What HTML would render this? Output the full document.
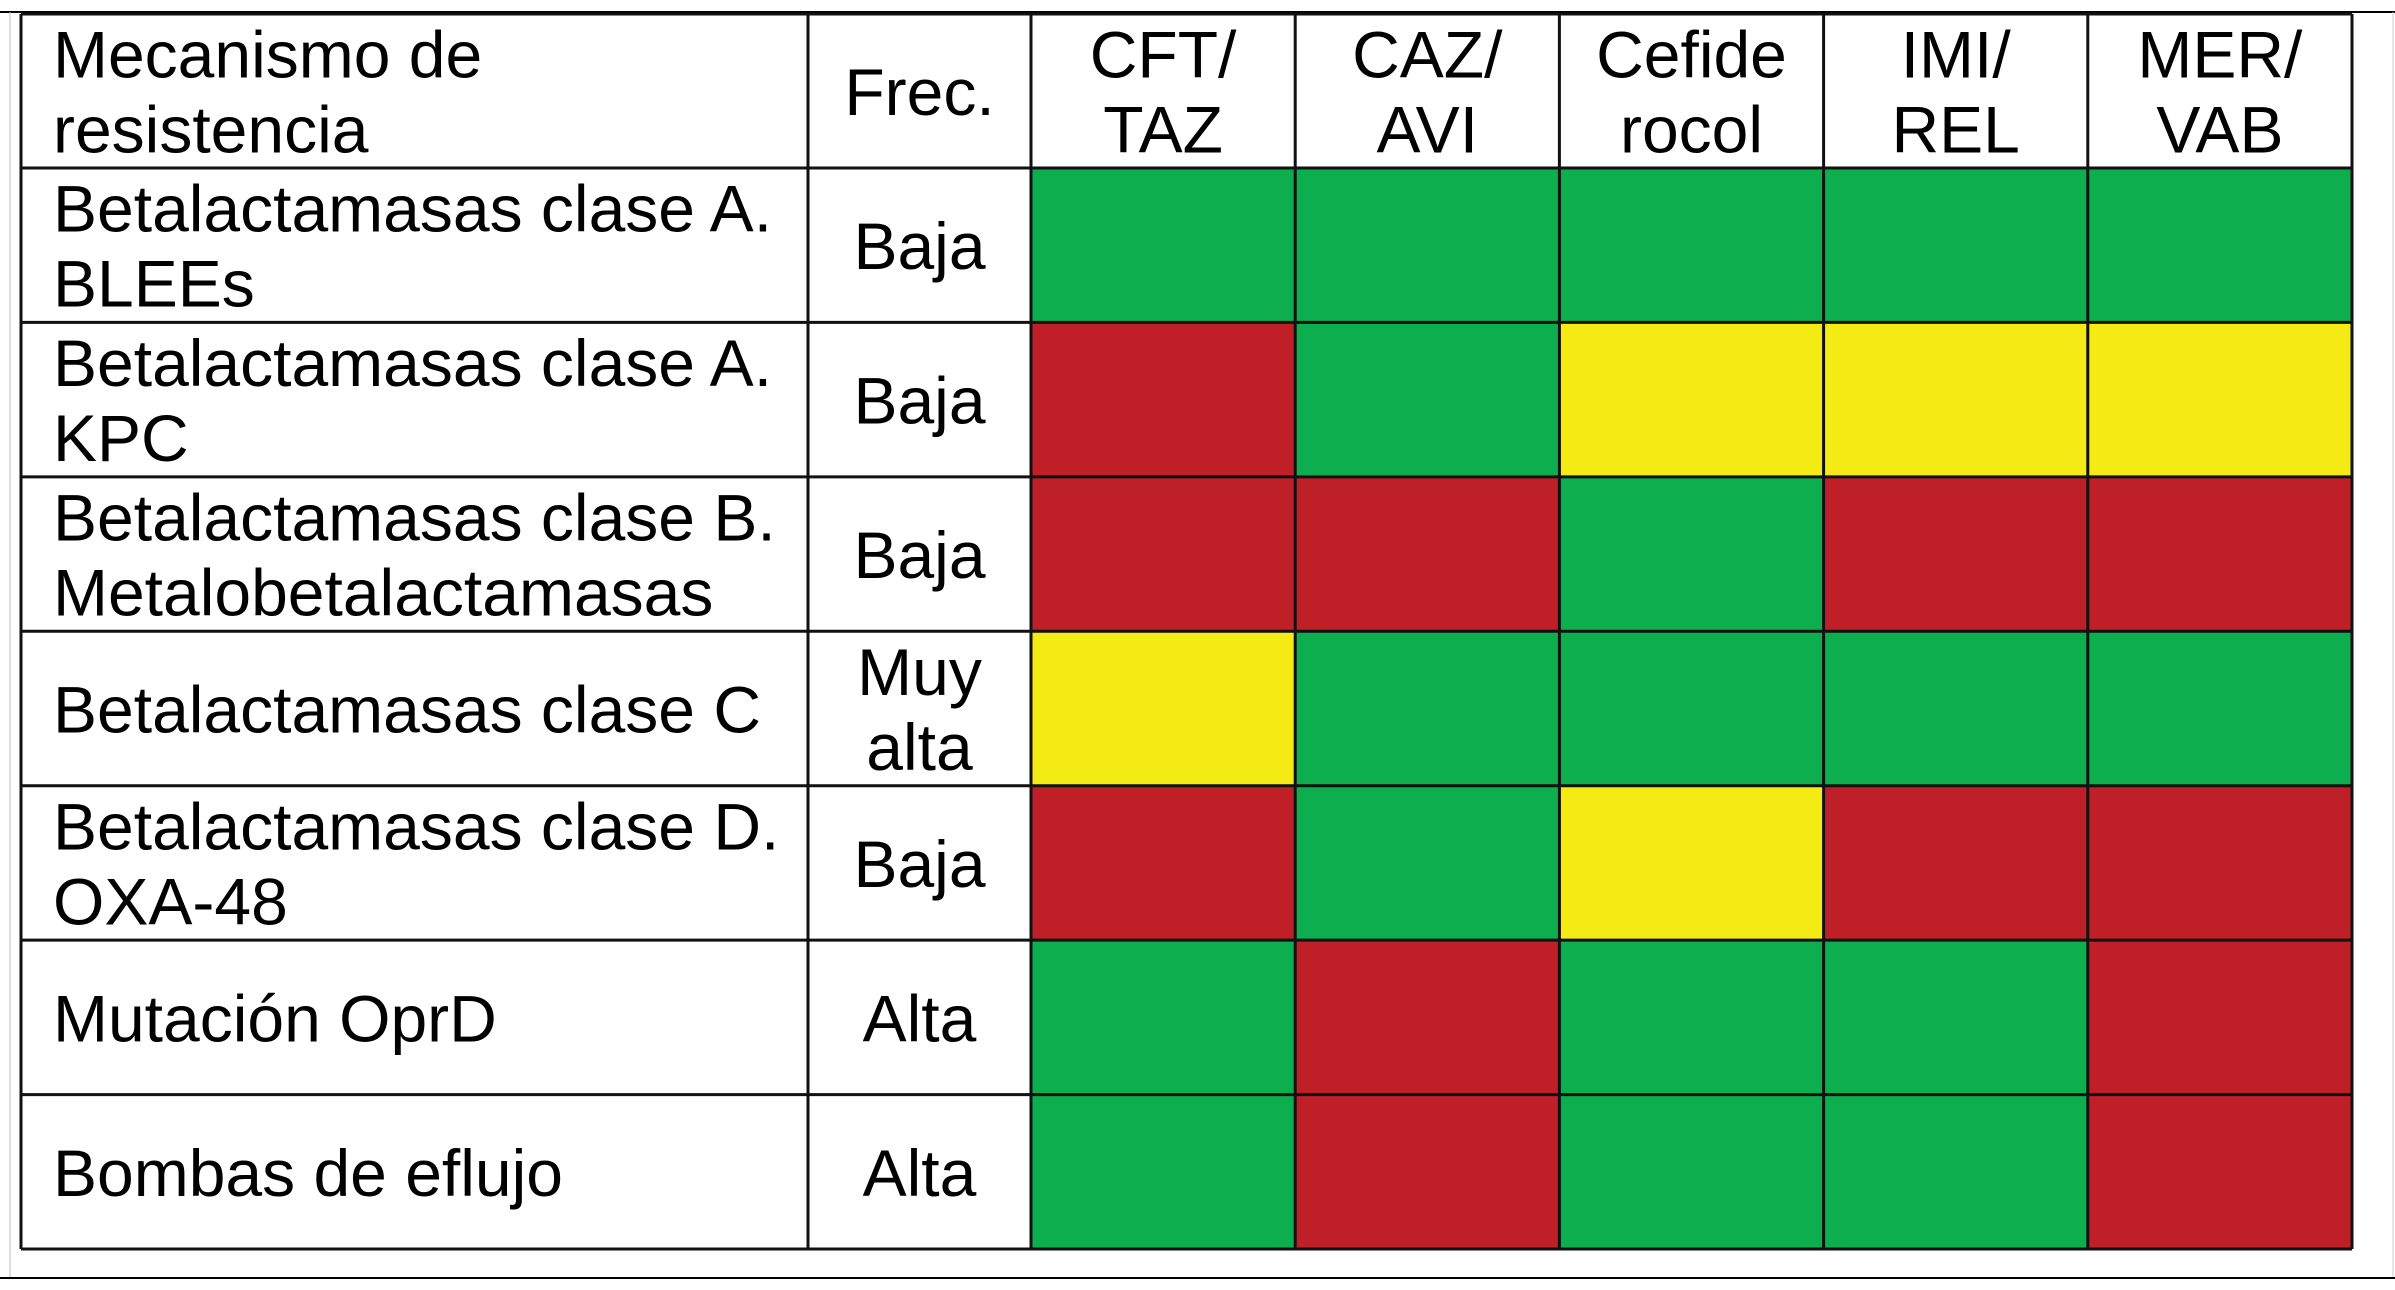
<!DOCTYPE html>
<html><head><meta charset="utf-8"><style>
html,body{margin:0;padding:0;background:#fff;width:2395px;height:1290px;overflow:hidden}
svg{display:block}
text{font-family:"Liberation Sans",Arial,sans-serif;font-size:66px;fill:#000}
</style></head><body>
<svg id="chart" width="2395" height="1290">
<line x1="0" y1="12" x2="2395" y2="12" stroke="#000" stroke-width="2"/>
<line x1="10" y1="12" x2="10" y2="1278" stroke="#bbb" stroke-width="1"/>
<line x1="2393" y1="12" x2="2393" y2="1278" stroke="#ccc" stroke-width="1"/>
<line x1="0" y1="1278" x2="2395" y2="1278" stroke="#000" stroke-width="2"/>
<g id="cells"></g><g id="grid"></g><g id="labels"></g>
</svg>
<script>
const mechanisms = [["Betalactamasas clase A.","BLEEs"],["Betalactamasas clase A.","KPC"],["Betalactamasas clase B.","Metalobetalactamasas"],["Betalactamasas clase C"],["Betalactamasas clase D.","OXA-48"],["Mutación OprD"],["Bombas de eflujo"]];
const frequencies = [["Baja"],["Baja"],["Baja"],["Muy","alta"],["Baja"],["Alta"],["Alta"]];
const drugs = [["CFT/","TAZ"],["CAZ/","AVI"],["Cefide","rocol"],["IMI/","REL"],["MER/","VAB"]];
const resistStatus = [
 ["G","G","G","G","G"],
 ["R","G","Y","Y","Y"],
 ["R","R","G","R","R"],
 ["Y","G","G","G","G"],
 ["R","G","Y","R","R"],
 ["G","R","G","G","R"],
 ["G","R","G","G","R"]
];
const colorMap = {G:"#0CAE4E",R:"#BF1F26",Y:"#F5EB14"};
const NS="http://www.w3.org/2000/svg";
const tLeft=21,tRight=2352,tableTop=14,headerBottom=168,tBottom=1249,c1=808,c2=1031;
const colW=(tRight-c2)/drugs.length, rowH=(tBottom-headerBottom)/mechanisms.length;
function colX(i){return c2+i*colW;}
function rowY(i){return headerBottom+i*rowH;}
const cellsG=document.getElementById('cells'),gridG=document.getElementById('grid'),labelsG=document.getElementById('labels');
function mk(tag,attrs,parent){const e=document.createElementNS(NS,tag);for(const k in attrs)e.setAttribute(k,attrs[k]);parent.appendChild(e);return e;}
function txt(lines,x,cy,anchor,parent,name){
  const t=mk('text',{x:x,'text-anchor':anchor},parent);
  
  
  const lh=75, n=lines.length;
  lines.forEach((s,i)=>{const sp=mk('tspan',{x:x,y:cy+(i-(n-1)/2)*lh+24},t);sp.textContent=s;});
}
resistStatus.forEach((row,r)=>row.forEach((v,c)=>{
  const rc=mk('rect',{x:colX(c),y:rowY(r),width:colW,height:rowH,fill:colorMap[v]},cellsG);
  
  
}));
const xs=[tLeft,c1,c2];for(let i=1;i<=drugs.length;i++)xs.push(colX(i));
xs.forEach(x=>{const l=mk('line',{x1:x,y1:tableTop,x2:x,y2:tBottom,stroke:'#111','stroke-width':3},gridG);
  
  });
const ys=[tableTop,headerBottom];for(let i=1;i<=mechanisms.length;i++)ys.push(rowY(i));
ys.forEach(y=>{const l=mk('line',{x1:tLeft,y1:y,x2:tRight,y2:y,stroke:'#111','stroke-width':3},gridG);
  
  });
txt(["Mecanismo de","resistencia"],53,(tableTop+headerBottom)/2,'start',labelsG,'header-mechanism');
txt(["Frec."],(c1+c2)/2,(tableTop+headerBottom)/2,'middle',labelsG,'header-frequency');
drugs.forEach((d,i)=>txt(d,colX(i)+colW/2,(tableTop+headerBottom)/2,'middle',labelsG,'header-drug'));
mechanisms.forEach((m,r)=>{
  const cy=rowY(r)+rowH/2;
  txt(m,53,cy,'start',labelsG,'row-mechanism-label');
  txt(frequencies[r],(c1+c2)/2,cy,'middle',labelsG,'row-frequency-label');
});
</script>
</body></html>
